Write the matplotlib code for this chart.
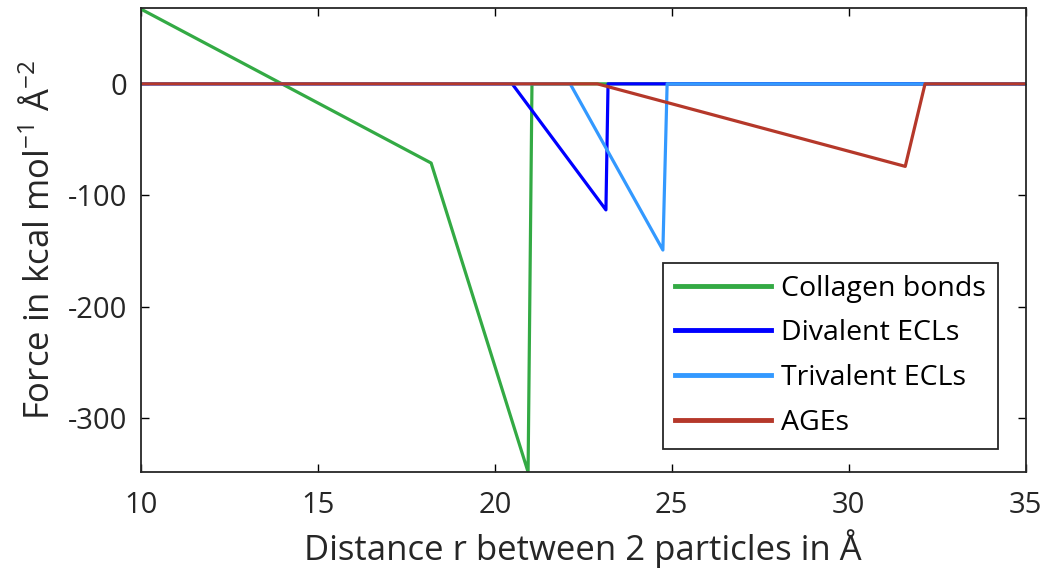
import matplotlib
matplotlib.use('Agg')
import matplotlib.pyplot as plt

plt.rcParams['font.family'] = ['Open Sans', 'DejaVu Sans']
plt.rcParams['mathtext.default'] = 'regular'
plt.rcParams['axes.unicode_minus'] = False

# distance r (Angstrom) and force (kcal mol^-1 A^-2)
dist_collagen = [10.0, 18.2, 20.94, 21.05, 35.0]
force_collagen = [67, -71, -348, 0, 0]

dist_divalent = [10.0, 20.49, 23.14, 23.2, 35.0]
force_divalent = [0, 0, -113, 0, 0]

dist_trivalent = [10.0, 22.13, 24.75, 24.87, 35.0]
force_trivalent = [0, 0, -149, 0, 0]

dist_ages = [10.0, 22.9, 31.6, 32.16, 35.0]
force_ages = [0, 0, -74, 0, 0]

labels = ['Collagen bonds', 'Divalent ECLs', 'Trivalent ECLs', 'AGEs']
colors = ['#33AA44', '#0000FF', '#3399FF', '#B5382A']

fig = plt.figure(figsize=(10.5, 5.84), dpi=100)
ax = fig.add_axes([0.1343, 0.1918, 0.8424, 0.7945])

lw = 2.3
ax.plot(dist_collagen, force_collagen, color=colors[0], lw=lw, label=labels[0])
ax.plot(dist_divalent, force_divalent, color=colors[1], lw=lw, label=labels[1])
ax.plot(dist_trivalent, force_trivalent, color=colors[2], lw=lw, label=labels[2])
ax.plot(dist_ages, force_ages, color=colors[3], lw=lw, label=labels[3])

ax.set_xlim(10, 35)
ax.set_ylim(-348, 68)
ax.set_xticks([10, 15, 20, 25, 30, 35])
ax.set_yticks([-300, -200, -100, 0])

ax.tick_params(direction='in', length=6, width=1, labelsize=21,
               labelcolor='#262626', top=True, right=True)
ax.tick_params(axis='x', pad=14)
ax.tick_params(axis='y', pad=10)
for sp in ax.spines.values():
    sp.set_linewidth(1.3)
    sp.set_color('#262626')

ax.set_xlabel('Distance r between 2 particles in Å', fontsize=25,
              color='#262626', labelpad=6)
ax.set_ylabel('Force in kcal mol$^{-1}$ Å$^{-2}$', fontsize=25,
              color='#262626', labelpad=8)

leg = ax.legend(loc='lower right', bbox_to_anchor=(0.969, 0.0496), fontsize=20.5,
                handlelength=3.4, handletextpad=0.35, fancybox=False,
                edgecolor='#262626', framealpha=1, labelspacing=0.59,
                borderpad=0.42, borderaxespad=0)
leg.get_frame().set_linewidth(1.3)
for line in leg.get_lines():
    line.set_linewidth(3.5)

fig.savefig('out.png', dpi=100)
